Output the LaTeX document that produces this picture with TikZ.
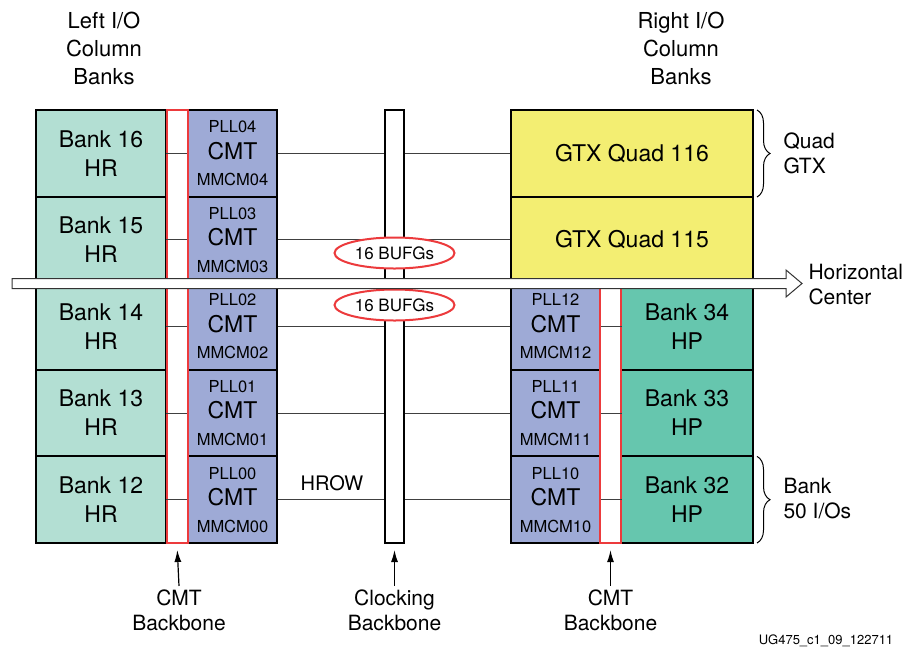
\documentclass[tikz,border=0pt]{standalone}
\usepackage{fontspec}
\setmainfont{TeX Gyre Heros}
\usetikzlibrary{shapes.geometric,arrows.meta,decorations.pathreplacing}

\definecolor{hrgreen}{HTML}{B3DFD3}
\definecolor{cmtblue}{HTML}{9EAAD6}
\definecolor{gtxyellow}{HTML}{F3EE72}
\definecolor{hpteal}{HTML}{66C6AE}
\definecolor{bbred}{HTML}{EC3A3C}

\newcommand{\bigcmt}{{\fontsize{23}{26.5}\selectfont CMT}}

\tikzset{
  box/.style={draw,line width=2pt,align=center,minimum height=86.6pt,inner sep=0pt},
  hrbank/.style={box,fill=hrgreen,minimum width=130pt,font=\fontsize{23}{29}\selectfont},
  hpbank/.style={box,fill=hpteal,minimum width=132pt,font=\fontsize{23}{29}\selectfont},
  gtxquad/.style={box,fill=gtxyellow,minimum width=242pt,font=\fontsize{23}{29}\selectfont},
  cmtbox/.style={box,fill=cmtblue,minimum width=89pt,font=\fontsize{16.5}{26.5}\selectfont},
  backbone/.style={draw=bbred,fill=white,line width=2pt,minimum width=21pt,inner sep=0pt},
  clkbone/.style={draw,fill=white,line width=2pt,minimum width=19pt,minimum height=433pt,inner sep=0pt},
  bufg/.style={ellipse,draw=bbred,fill=white,line width=2pt,minimum width=120pt,minimum height=31pt,inner sep=0pt,font=\fontsize{17}{20}\selectfont},
  link/.style={draw=black!75,line width=1.1pt},
  lbl/.style={align=center,font=\fontsize{21}{25}\selectfont},
  pointer/.style={-{Latex[length=12pt,width=7pt]},line width=1.2pt,shorten >=6pt},
  sidebrace/.style={decorate,decoration={brace,amplitude=13pt},line width=1pt}
}

\begin{document}
\begin{tikzpicture}[x=1pt,y=-1pt]
        \useasboundingbox (0,0) rectangle (904,654);
        % column headings
        \node[align=center,font=\fontsize{22}{28}\selectfont] (lefthead) at (104,48) {Left I/O\\Column\\Banks};
        \node[align=center,font=\fontsize{22}{28}\selectfont] (righthead) at (681,48) {Right I/O\\Column\\Banks};
        % left banks
        \node[hrbank] (hr16) at (101,153.3) {Bank 16\\HR};
        \node[hrbank] (hr15) at (101,239.9) {Bank 15\\HR};
        \node[hrbank] (hr14) at (101,326.5) {Bank 14\\HR};
        \node[hrbank] (hr13) at (101,413.1) {Bank 13\\HR};
        \node[hrbank] (hr12) at (101,499.7) {Bank 12\\HR};
        \node[cmtbox] (cmtL4) at (232.5,153.3) {PLL04\\\bigcmt\\MMCM04};
        \node[cmtbox] (cmtL3) at (232.5,239.9) {PLL03\\\bigcmt\\MMCM03};
        \node[cmtbox] (cmtL2) at (232.5,326.5) {PLL02\\\bigcmt\\MMCM02};
        \node[cmtbox] (cmtL1) at (232.5,413.1) {PLL01\\\bigcmt\\MMCM01};
        \node[cmtbox] (cmtL0) at (232.5,499.7) {PLL00\\\bigcmt\\MMCM00};
        \node[backbone,minimum height=433pt] (bbL) at (177,326.5) {};
        % right side
        \node[gtxquad] (gtx116) at (632,153.3) {GTX Quad 116};
        \node[gtxquad] (gtx115) at (632,239.9) {GTX Quad 115};
        \node[hpbank] (hp34) at (687,326.5) {Bank 34\\HP};
        \node[hpbank] (hp33) at (687,413.1) {Bank 33\\HP};
        \node[hpbank] (hp32) at (687,499.7) {Bank 32\\HP};
        \node[cmtbox] (cmtR2) at (555.5,326.5) {PLL12\\\bigcmt\\MMCM12};
        \node[cmtbox] (cmtR1) at (555.5,413.1) {PLL11\\\bigcmt\\MMCM11};
        \node[cmtbox] (cmtR0) at (555.5,499.7) {PLL10\\\bigcmt\\MMCM10};
        \node[backbone,minimum height=260pt] (bbR) at (610.5,413.1) {};
        % clocking backbone
        \node[clkbone] (clk) at (394.5,326.5) {};
        % row lines
        \draw[link] (bbL.west |- cmtL4) -- (cmtL4.west);
        \draw[link] (bbL.west |- cmtL3) -- (cmtL3.west);
        \draw[link] (bbL.west |- cmtL2) -- (cmtL2.west);
        \draw[link] (bbL.west |- cmtL1) -- (cmtL1.west);
        \draw[link] (bbL.west |- cmtL0) -- (cmtL0.west);
        \draw[link] (cmtL4.east) -- (clk.west |- cmtL4);
        \draw[link] (cmtL3.east) -- (clk.west |- cmtL3);
        \draw[link] (cmtL2.east) -- (clk.west |- cmtL2);
        \draw[link] (cmtL1.east) -- (clk.west |- cmtL1);
        \draw[link] (cmtL0.east) -- (clk.west |- cmtL0);
        \draw[link] (clk.east |- gtx116) -- (gtx116.west);
        \draw[link] (clk.east |- gtx115) -- (gtx115.west);
        \draw[link] (clk.east |- cmtR2) -- (cmtR2.west);
        \draw[link] (clk.east |- cmtR1) -- (cmtR1.west);
        \draw[link] (clk.east |- cmtR0) -- (cmtR0.west);
        \draw[link] (cmtR2.east) -- (bbR.east |- cmtR2);
        \draw[link] (cmtR1.east) -- (bbR.east |- cmtR1);
        \draw[link] (cmtR0.east) -- (bbR.east |- cmtR0);
        \node[font=\fontsize{20}{24}\selectfont] (hrow) at (332,483) {HROW};
        % BUFG ellipses
        \node[bufg] (bufgtop) at (394.5,253) {16 BUFGs};
        \node[bufg] (bufgbot) at (394.5,305) {16 BUFGs};
        % horizontal center arrow
        \draw[fill=white,line width=1pt,draw=black!80]
          (12,278.5) -- (786,278.5) -- (786,270) -- (802,283.5) -- (786,297)
          -- (786,288.5) -- (12,288.5) -- cycle;
        \node[lbl,anchor=west,align=left] (hcenter) at (805,285) {Horizontal\\Center};
        % braces
        \coordinate (quadtop) at (757,110);
        \coordinate (quadbot) at (757,197);
        \draw[sidebrace] (quadtop) -- (quadbot);
        \node[lbl,anchor=west,align=left] (quadlbl) at (780,153.5) {Quad\\GTX};
        \coordinate (banktop) at (757,456.4);
        \coordinate (bankbot) at (757,543);
        \draw[sidebrace] (banktop) -- (bankbot);
        \node[lbl,anchor=west,align=left] (banklbl) at (780,499) {Bank\\50 I/Os};
        % backbone labels
        \node[lbl] (lblL) at (179,610) {CMT\\Backbone};
        \node[lbl] (lblC) at (394.5,610) {Clocking\\Backbone};
        \node[lbl] (lblR) at (610.5,610) {CMT\\Backbone};
        \draw[pointer] (lblL.north) -- (bbL.south);
        \draw[pointer] (lblC.north) -- (clk.south);
        \draw[pointer] (lblR.north) -- (bbR.south);
        \node[font=\fontsize{13}{15}\selectfont] (figid) at (826,641) {UG475\_c1\_09\_122711};
\end{tikzpicture}
\end{document}
